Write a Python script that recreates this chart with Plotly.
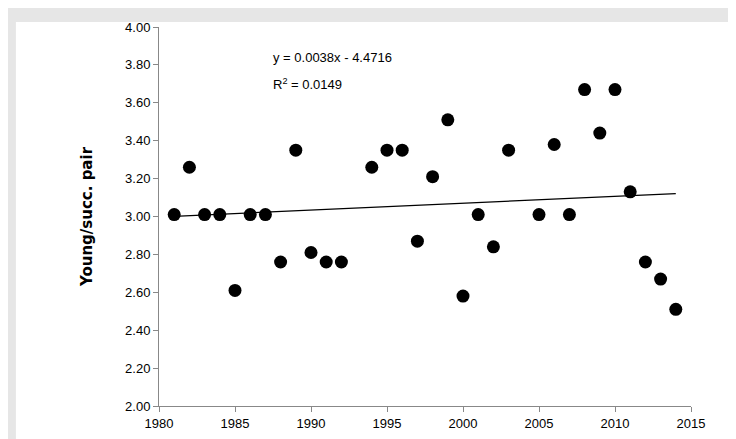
import numpy as np
import plotly.graph_objects as go

years = [1981, 1982, 1983, 1984, 1985, 1986, 1987, 1988, 1989, 1990, 1991, 1992,
         1994, 1995, 1996, 1997, 1998, 1999, 2000, 2001, 2002, 2003, 2005, 2006,
         2007, 2008, 2009, 2010, 2011, 2012, 2013, 2014]
young = [3.01, 3.26, 3.01, 3.01, 2.61, 3.01, 3.01, 2.76, 3.35, 2.81, 2.76, 2.76,
         3.26, 3.35, 3.35, 2.87, 3.21, 3.51, 2.58, 3.01, 2.84, 3.35, 3.01, 3.38,
         3.01, 3.67, 3.44, 3.67, 3.13, 2.76, 2.67, 2.51]

slope, icpt = np.polyfit(years, young, 1)
trend_x = [years[0], years[-1]]
trend_y = [slope * x + icpt for x in trend_x]

fig = go.Figure()
fig.add_trace(go.Scatter(x=trend_x, y=trend_y, mode="lines",
                         line=dict(color="black", width=1.2), hoverinfo="skip"))
fig.add_trace(go.Scatter(x=years, y=young, mode="markers",
                         marker=dict(color="black", size=13)))

# white chart area inside a light grey border
fig.add_shape(type="rect", xref="paper", yref="paper", x0=-0.269, x1=1.083, y0=-0.091, y1=1.013,
              fillcolor="white", line=dict(width=0), layer="below")

fig.add_annotation(x=0.21, y=0.945, xref="paper", yref="paper", showarrow=False,
                   text="y = 0.0038x - 4.4716", font=dict(size=13, color="black"))
fig.add_annotation(x=0.21, y=0.875, xref="paper", yref="paper", showarrow=False,
                   text="R<sup>2</sup> = 0.0149", font=dict(size=13, color="black"))

fig.update_layout(
    width=736, height=439,
    margin=dict(l=151, r=53, t=12, b=41),
    paper_bgcolor="#e6e6e6", plot_bgcolor="white",
    showlegend=False,
    font=dict(family="Liberation Sans Narrow, Liberation Sans, Arial", size=13, color="black"),
)
fig.update_xaxes(range=[1980, 2015], dtick=5, showgrid=False, zeroline=False,
                 showline=True, linecolor="#888", ticks="outside", ticklen=5, tickcolor="#888")
fig.update_yaxes(range=[2.0, 4.0], dtick=0.2, tickformat=".2f", showgrid=False, zeroline=False,
                 showline=True, linecolor="#888", ticks="outside", ticklen=5, tickcolor="#888",
                 title=dict(text="<b>Young/succ. pair</b>", font=dict(family="DejaVu Sans", size=15), standoff=28))

fig.write_html("out.html")
